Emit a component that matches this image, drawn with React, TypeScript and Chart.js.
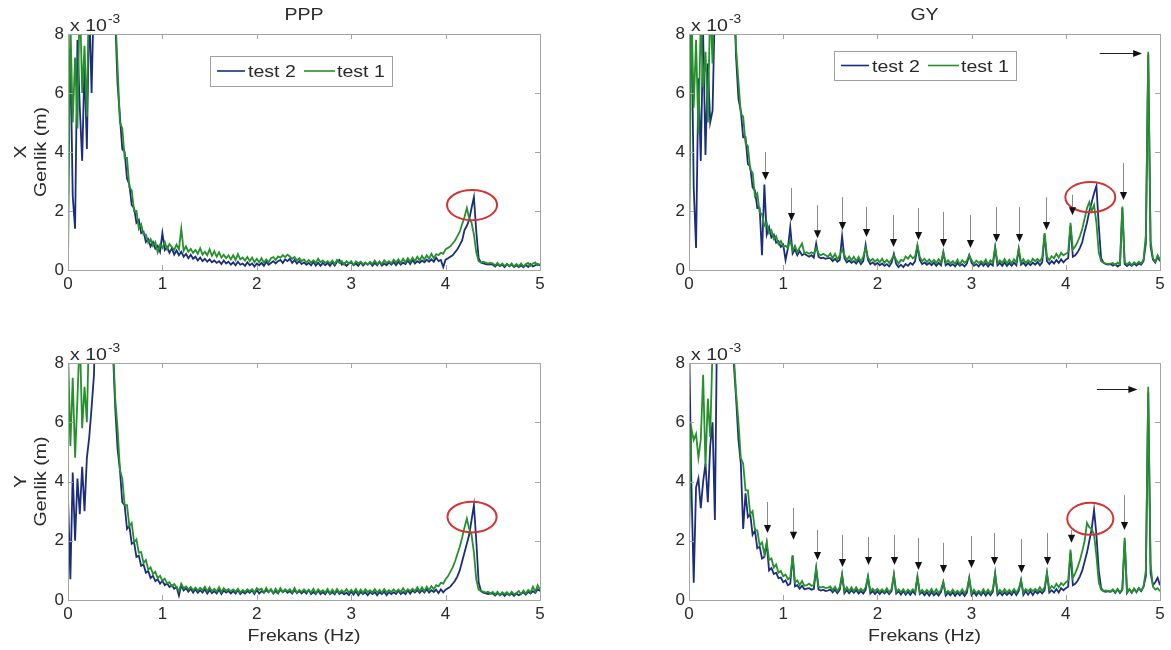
import React, { useEffect, useRef } from "react";
import { Chart, registerables } from "chart.js";
Chart.register(...registerables);

// Frequency grid step (Hz) – sample i sits at i * STEP_HZ, 0..5 Hz
const STEP_HZ = 0.025;
const X_TICKS = [0, 1, 2, 3, 4, 5];
const Y_TICKS = [0, 2, 4, 6, 8];
const LEGEND_LABELS = ["test 2", "test 1"];

// Amplitudes in units of 1e-3 m
const PPP_X_TEST2 = [
  3.0, 7.5, 2.5, 1.4, 7.8, 5.5, 3.7, 7.0, 4.1, 9.0,
  6.0, 9.5, 11, 14, 18, 22, 24, 20, 15, 11,
  8.5, 6.3, 5.2, 4.1, 4.0, 3.1, 2.9, 2.2, 2.1, 1.6,
  1.7, 1.25, 1.3, 0.95, 1.05, 0.8, 0.95, 0.72, 0.82, 0.62,
  1.25, 0.68, 0.78, 0.58, 0.74, 0.52, 0.66, 0.5, 0.62, 0.45,
  0.55, 0.4, 0.52, 0.38, 0.45, 0.32, 0.42, 0.3, 0.38, 0.28,
  0.36, 0.26, 0.32, 0.24, 0.3, 0.2, 0.32, 0.22, 0.28, 0.18,
  0.26, 0.16, 0.28, 0.18, 0.22, 0.14, 0.26, 0.16, 0.22, 0.12,
  0.22, 0.16, 0.24, 0.14, 0.28, 0.18, 0.24, 0.3, 0.22, 0.3,
  0.34, 0.24, 0.36, 0.3, 0.38, 0.24, 0.34, 0.22, 0.3, 0.2,
  0.26, 0.18, 0.24, 0.16, 0.28, 0.15, 0.25, 0.14, 0.24, 0.16,
  0.24, 0.14, 0.26, 0.15, 0.28, 0.34, 0.18, 0.24, 0.14, 0.22,
  0.26, 0.16, 0.22, 0.14, 0.26, 0.15, 0.24, 0.18, 0.25, 0.14,
  0.24, 0.16, 0.28, 0.15, 0.22, 0.16, 0.26, 0.18, 0.27, 0.16,
  0.28, 0.18, 0.25, 0.2, 0.32, 0.2, 0.34, 0.22, 0.3, 0.24,
  0.32, 0.26, 0.35, 0.28, 0.36, 0.28, 0.42, 0.3, 0.34, 0.1,
  0.35, 0.4, 0.45, 0.5, 0.6, 0.7, 0.85, 1.0, 1.35, 1.5,
  1.7, 2.1, 2.47, 1.3, 0.4, 0.25, 0.22, 0.2, 0.18, 0.2,
  0.18, 0.12, 0.2, 0.13, 0.18, 0.1, 0.2, 0.13, 0.18, 0.1,
  0.16, 0.1, 0.15, 0.09, 0.17, 0.1, 0.2, 0.12, 0.16, 0.2,
  0.15,
];
const PPP_X_TEST1 = [
  0.2, 8.5, 5.0, 7.2, 4.8, 9.5, 6.0, 7.6, 5.2, 10,
  12, 15, 18, 22, 26, 24, 20, 16, 13, 10,
  8.8, 6.9, 5.0, 4.8, 3.8, 3.8, 2.8, 2.7, 2.0, 2.0,
  1.4, 1.55, 1.2, 1.2, 0.92, 1.05, 0.82, 0.95, 0.6, 0.85,
  0.75, 0.95, 0.7, 0.88, 0.78, 0.68, 0.86, 0.7, 1.4, 0.65,
  0.8, 0.62, 0.72, 0.58, 0.68, 0.55, 0.74, 0.52, 0.62, 0.5,
  0.7, 0.48, 0.64, 0.45, 0.6, 0.42, 0.52, 0.4, 0.5, 0.36,
  0.5, 0.34, 0.54, 0.36, 0.42, 0.32, 0.44, 0.3, 0.42, 0.26,
  0.38, 0.26, 0.4, 0.25, 0.36, 0.26, 0.4, 0.44, 0.34, 0.46,
  0.42, 0.5, 0.44, 0.52, 0.46, 0.38, 0.44, 0.32, 0.4, 0.3,
  0.36, 0.26, 0.34, 0.25, 0.33, 0.24, 0.38, 0.26, 0.32, 0.24,
  0.3, 0.22, 0.32, 0.2, 0.34, 0.24, 0.3, 0.18, 0.3, 0.22,
  0.3, 0.18, 0.29, 0.22, 0.28, 0.2, 0.26, 0.18, 0.28, 0.2,
  0.32, 0.2, 0.28, 0.2, 0.33, 0.24, 0.3, 0.22, 0.35, 0.26,
  0.36, 0.24, 0.38, 0.26, 0.4, 0.28, 0.42, 0.3, 0.45, 0.32,
  0.48, 0.35, 0.5, 0.38, 0.55, 0.4, 0.54, 0.5, 0.58, 0.55,
  0.7, 0.75, 0.8, 0.9, 1.0, 1.15, 1.3, 1.55, 1.8, 2.1,
  1.75, 1.6, 1.2, 0.6, 0.3, 0.25, 0.28, 0.25, 0.22, 0.25,
  0.22, 0.16, 0.24, 0.15, 0.22, 0.14, 0.2, 0.13, 0.22, 0.12,
  0.2, 0.13, 0.22, 0.12, 0.2, 0.24, 0.14, 0.22, 0.26, 0.16,
  0.2,
];
const GY_X_TEST2 = [
  3.0, 9.0, 2.8, 0.75, 6.5, 3.7, 8.0, 3.9, 7.0, 5.0,
  5.4, 9.0, 14, 18, 22, 25, 22, 17, 12, 9.5,
  7.2, 5.8, 5.4, 4.5, 4.5, 3.6, 3.5, 2.8, 2.7, 2.1,
  2.1, 0.5, 2.9, 1.2, 1.45, 1.1, 1.2, 0.92, 0.98, 0.78,
  0.86, 0.34, 0.74, 1.45, 0.56, 0.7, 0.5, 0.64, 0.5, 0.55,
  0.5, 0.45, 0.5, 0.42, 0.9, 0.45, 0.4, 0.42, 0.38, 0.4,
  0.4, 0.3, 0.38, 0.28, 0.34, 1.15, 0.4, 0.26, 0.32, 0.24,
  0.3, 0.22, 0.34, 0.2, 0.3, 0.85, 0.34, 0.2, 0.26, 0.18,
  0.24, 0.16, 0.22, 0.14, 0.2, 0.12, 0.24, 0.55, 0.2, 0.1,
  0.18, 0.1, 0.2, 0.14, 0.24, 0.18, 0.3, 0.8, 0.34, 0.2,
  0.26, 0.18, 0.24, 0.16, 0.25, 0.14, 0.24, 0.16, 0.6, 0.16,
  0.22, 0.14, 0.2, 0.12, 0.24, 0.14, 0.2, 0.12, 0.22, 0.5,
  0.24, 0.14, 0.2, 0.12, 0.24, 0.14, 0.23, 0.12, 0.22, 0.15,
  0.75, 0.16, 0.24, 0.14, 0.26, 0.14, 0.24, 0.14, 0.25, 0.16,
  0.7, 0.18, 0.25, 0.14, 0.24, 0.16, 0.25, 0.18, 0.27, 0.16,
  0.26, 1.2, 0.3, 0.2, 0.3, 0.22, 0.34, 0.24, 0.36, 0.26,
  0.35, 0.4, 1.5, 0.45, 0.5, 0.6, 0.75, 0.95, 1.3, 1.6,
  2.0, 2.3, 2.6, 2.85, 1.5, 0.4, 0.25, 0.2, 0.18, 0.2,
  0.15, 0.2, 0.12, 0.18, 2.1, 0.2, 0.13, 0.2, 0.14, 0.22,
  0.15, 0.22, 0.18, 0.3, 0.9, 7.3, 0.8, 0.35, 0.25, 0.45,
  0.3,
];
const GY_X_TEST1 = [
  0.2, 9.0, 5.5, 7.8, 4.6, 8.5, 6.2, 7.4, 5.0, 9.0,
  7.0, 11, 15, 20, 24, 26, 23, 18, 13, 10,
  7.5, 6.4, 5.3, 5.2, 4.3, 4.2, 3.4, 3.3, 2.5, 2.6,
  1.95, 1.9, 1.5, 1.6, 1.25, 1.35, 1.05, 1.15, 0.88, 0.98,
  0.8, 0.82, 0.74, 1.0, 0.66, 0.82, 0.6, 0.76, 0.9, 0.56,
  0.6, 0.55, 0.6, 0.55, 0.75, 0.55, 0.5, 0.55, 0.5, 0.45,
  0.56, 0.4, 0.55, 0.36, 0.5, 0.7, 0.5, 0.34, 0.46, 0.32,
  0.45, 0.3, 0.44, 0.28, 0.45, 0.75, 0.42, 0.3, 0.38, 0.28,
  0.36, 0.26, 0.38, 0.24, 0.34, 0.24, 0.36, 0.5, 0.34, 0.22,
  0.34, 0.3, 0.46, 0.38, 0.5, 0.4, 0.46, 0.85, 0.44, 0.3,
  0.38, 0.27, 0.36, 0.25, 0.34, 0.24, 0.37, 0.25, 0.6, 0.24,
  0.33, 0.22, 0.3, 0.21, 0.35, 0.2, 0.33, 0.24, 0.32, 0.5,
  0.33, 0.2, 0.32, 0.24, 0.3, 0.22, 0.35, 0.2, 0.33, 0.25,
  0.78, 0.24, 0.33, 0.24, 0.37, 0.22, 0.35, 0.23, 0.36, 0.26,
  0.72, 0.25, 0.37, 0.24, 0.33, 0.25, 0.38, 0.3, 0.37, 0.29,
  0.43, 1.25, 0.45, 0.33, 0.47, 0.4, 0.55, 0.42, 0.58, 0.5,
  0.55, 0.6, 1.6, 0.7, 0.8, 0.95, 1.15, 1.4, 1.75, 2.1,
  2.3, 2.0, 2.2, 1.6, 0.6, 0.3, 0.25, 0.22, 0.2, 0.22,
  0.24, 0.16, 0.25, 0.18, 2.15, 0.28, 0.18, 0.26, 0.17, 0.26,
  0.2, 0.28, 0.22, 0.35, 1.2, 7.4, 1.0, 0.4, 0.28, 0.5,
  0.35,
];
const PPP_Y_TEST2 = [
  3.5, 0.7, 4.3, 2.0, 4.1, 2.9, 4.5, 3.0, 4.8, 5.5,
  6.5, 7.6, 11, 15, 19, 23, 20, 16, 12, 8.5,
  6.5, 5.1, 4.4, 3.3, 3.2, 2.4, 2.5, 1.9, 1.95, 1.45,
  1.5, 1.15, 1.2, 0.92, 0.98, 0.74, 0.82, 0.64, 0.7, 0.55,
  0.65, 0.5, 0.56, 0.44, 0.5, 0.38, 0.44, 0.15, 0.5, 0.32,
  0.4, 0.28, 0.38, 0.25, 0.36, 0.24, 0.33, 0.25, 0.36, 0.22,
  0.34, 0.23, 0.3, 0.22, 0.35, 0.2, 0.32, 0.25, 0.3, 0.22,
  0.3, 0.22, 0.34, 0.2, 0.28, 0.22, 0.3, 0.24, 0.33, 0.2,
  0.34, 0.22, 0.3, 0.24, 0.33, 0.26, 0.35, 0.22, 0.3, 0.22,
  0.35, 0.26, 0.33, 0.24, 0.3, 0.22, 0.34, 0.23, 0.3, 0.22,
  0.3, 0.22, 0.34, 0.2, 0.27, 0.2, 0.32, 0.2, 0.27, 0.19,
  0.32, 0.2, 0.27, 0.19, 0.32, 0.2, 0.26, 0.19, 0.25, 0.17,
  0.29, 0.18, 0.3, 0.16, 0.27, 0.2, 0.26, 0.16, 0.27, 0.2,
  0.27, 0.16, 0.26, 0.2, 0.28, 0.16, 0.27, 0.2, 0.26, 0.2,
  0.32, 0.2, 0.27, 0.2, 0.33, 0.21, 0.32, 0.25, 0.33, 0.24,
  0.33, 0.25, 0.36, 0.25, 0.33, 0.27, 0.35, 0.23, 0.36, 0.26,
  0.35, 0.4, 0.45, 0.55, 0.65, 0.8, 1.0, 1.3, 1.6, 1.9,
  2.2, 2.7, 3.2, 2.0, 0.6, 0.3, 0.25, 0.22, 0.2, 0.22,
  0.22, 0.15, 0.23, 0.16, 0.22, 0.14, 0.22, 0.16, 0.22, 0.14,
  0.22, 0.16, 0.2, 0.26, 0.18, 0.28, 0.22, 0.3, 0.24, 0.36,
  0.3,
];
const PPP_Y_TEST1 = [
  8.5, 5.2, 7.5, 4.8, 6.8, 9.0, 5.8, 7.2, 6.0, 9.5,
  11, 14, 18, 22, 26, 24, 19, 15, 11, 8.8,
  6.8, 5.8, 4.4, 4.1, 3.2, 3.2, 2.5, 2.6, 1.95, 2.05,
  1.6, 1.62, 1.25, 1.35, 1.02, 1.1, 0.88, 0.95, 0.74, 0.82,
  0.65, 0.72, 0.56, 0.6, 0.46, 0.54, 0.42, 0.3, 0.55, 0.4,
  0.46, 0.36, 0.44, 0.33, 0.42, 0.32, 0.41, 0.33, 0.45, 0.3,
  0.43, 0.3, 0.38, 0.29, 0.43, 0.27, 0.4, 0.32, 0.37, 0.3,
  0.36, 0.28, 0.38, 0.25, 0.34, 0.27, 0.36, 0.3, 0.37, 0.25,
  0.4, 0.34, 0.38, 0.25, 0.41, 0.27, 0.36, 0.23, 0.38, 0.25,
  0.4, 0.27, 0.36, 0.3, 0.36, 0.26, 0.41, 0.25, 0.34, 0.27,
  0.36, 0.27, 0.34, 0.25, 0.38, 0.23, 0.36, 0.27, 0.33, 0.25,
  0.37, 0.23, 0.35, 0.24, 0.37, 0.25, 0.33, 0.25, 0.37, 0.25,
  0.34, 0.25, 0.37, 0.23, 0.35, 0.24, 0.36, 0.27, 0.33, 0.25,
  0.37, 0.25, 0.34, 0.25, 0.37, 0.26, 0.33, 0.27, 0.36, 0.27,
  0.35, 0.27, 0.4, 0.27, 0.36, 0.3, 0.38, 0.3, 0.43, 0.3,
  0.43, 0.3, 0.45, 0.33, 0.47, 0.36, 0.5, 0.46, 0.58, 0.55,
  0.7, 0.8, 0.95, 1.1, 1.3, 1.55, 1.8, 2.1, 2.45, 2.75,
  2.4, 2.2, 1.6, 0.7, 0.35, 0.3, 0.28, 0.25, 0.28, 0.22,
  0.27, 0.19, 0.28, 0.17, 0.26, 0.2, 0.27, 0.17, 0.28, 0.19,
  0.24, 0.3, 0.2, 0.32, 0.22, 0.34, 0.26, 0.45, 0.28, 0.5,
  0.35,
];
const GY_Y_TEST2 = [
  9.0, 4.0, 0.58, 3.8, 4.1, 3.1, 4.0, 4.6, 3.3, 5.2,
  6.0, 2.7, 10, 14, 18, 22, 19, 15, 11, 8.0,
  6.8, 5.4, 4.6, 2.4, 3.6, 2.8, 2.9, 2.2, 2.35, 1.75,
  1.8, 1.4, 1.45, 1.9, 1.0, 1.08, 0.88, 0.92, 0.74, 0.76,
  0.6, 0.66, 0.5, 0.55, 1.5, 0.46, 0.5, 0.38, 0.48, 0.36,
  0.38, 0.4, 0.35, 0.38, 1.05, 0.35, 0.32, 0.35, 0.3, 0.32,
  0.36, 0.26, 0.35, 0.23, 0.34, 0.85, 0.23, 0.34, 0.23, 0.33,
  0.24, 0.34, 0.22, 0.3, 0.22, 0.34, 0.78, 0.22, 0.3, 0.2,
  0.3, 0.2, 0.3, 0.22, 0.3, 0.2, 0.3, 0.85, 0.22, 0.3,
  0.18, 0.3, 0.18, 0.28, 0.17, 0.3, 0.2, 0.78, 0.2, 0.27,
  0.16, 0.26, 0.15, 0.27, 0.16, 0.24, 0.15, 0.27, 0.6, 0.15,
  0.25, 0.16, 0.26, 0.14, 0.25, 0.16, 0.26, 0.14, 0.25, 0.74,
  0.16, 0.27, 0.15, 0.27, 0.16, 0.27, 0.15, 0.26, 0.16, 0.27,
  0.9, 0.17, 0.26, 0.16, 0.26, 0.17, 0.26, 0.17, 0.3, 0.17,
  0.3, 0.67, 0.17, 0.3, 0.18, 0.3, 0.17, 0.3, 0.22, 0.3,
  0.22, 0.33, 0.9, 0.25, 0.33, 0.25, 0.37, 0.25, 0.4, 0.33,
  0.4, 0.45, 1.6, 0.5, 0.55, 0.65, 0.8, 1.0, 1.3, 1.6,
  2.0, 2.4, 3.04, 2.2, 1.0, 0.4, 0.3, 0.28, 0.3, 0.28,
  0.34, 0.24, 0.36, 0.24, 0.34, 2.0, 0.24, 0.36, 0.24, 0.38,
  0.26, 0.4, 0.3, 0.45, 0.8, 7.0, 0.9, 0.5, 0.6, 0.75,
  0.5,
];
const GY_Y_TEST1 = [
  2.0, 5.8, 5.4, 5.6, 4.8, 5.4, 7.6, 4.5, 6.8, 5.5,
  8.5, 10, 13, 17, 21, 24, 20, 15, 11, 8.3,
  7.0, 6.0, 4.8, 4.6, 3.7, 3.7, 2.9, 3.0, 2.35, 2.35,
  1.85, 1.95, 1.55, 1.95, 1.35, 1.4, 1.1, 1.2, 0.92, 0.98,
  0.8, 0.86, 0.7, 0.76, 1.5, 0.6, 0.66, 0.5, 0.64, 0.48,
  0.5, 0.55, 0.48, 0.5, 1.08, 0.45, 0.42, 0.45, 0.4, 0.42,
  0.46, 0.33, 0.45, 0.3, 0.43, 0.85, 0.3, 0.43, 0.3, 0.43,
  0.3, 0.43, 0.3, 0.38, 0.3, 0.43, 0.78, 0.3, 0.38, 0.3,
  0.38, 0.28, 0.36, 0.27, 0.4, 0.26, 0.37, 0.85, 0.27, 0.36,
  0.27, 0.36, 0.24, 0.35, 0.27, 0.36, 0.27, 0.78, 0.25, 0.34,
  0.25, 0.34, 0.25, 0.37, 0.23, 0.36, 0.23, 0.35, 0.6, 0.23,
  0.31, 0.23, 0.35, 0.23, 0.31, 0.23, 0.36, 0.23, 0.35, 0.72,
  0.23, 0.35, 0.23, 0.31, 0.23, 0.36, 0.23, 0.35, 0.23, 0.36,
  0.88, 0.25, 0.34, 0.25, 0.37, 0.25, 0.34, 0.25, 0.37, 0.25,
  0.37, 0.66, 0.25, 0.37, 0.3, 0.38, 0.3, 0.37, 0.3, 0.43,
  0.3, 0.43, 0.92, 0.35, 0.47, 0.4, 0.55, 0.43, 0.57, 0.5,
  0.6, 0.65, 1.7, 0.75, 0.9, 1.1, 1.35, 1.65, 2.0, 2.6,
  2.45, 2.4, 2.2, 1.5, 0.6, 0.35, 0.3, 0.32, 0.3, 0.28,
  0.36, 0.26, 0.38, 0.27, 0.36, 2.1, 0.26, 0.37, 0.26, 0.38,
  0.28, 0.4, 0.32, 0.45, 1.0, 7.2, 1.2, 0.45, 0.35, 0.4,
  0.3,
];

// Annotations (data units): ellipse [cxHz, cy, rxHz, ry]
const PPP_X_ELLIPSE = [4.28, 2.2, 0.265, 0.51];
const GY_X_ELLIPSE = [4.26, 2.47, 0.265, 0.51];
const PPP_Y_ELLIPSE = [4.28, 2.8, 0.26, 0.52];
const GY_Y_ELLIPSE = [4.26, 2.74, 0.245, 0.54];
// Down arrows [fHz, tail, tip]
const GY_X_ARROWS = [
  [0.81, 4.0, 3.05], [1.08, 2.78, 1.66], [1.36, 2.2, 1.08], [1.62, 2.47, 1.36],
  [1.88, 2.14, 1.12], [2.17, 1.86, 0.78], [2.43, 2.1, 1.02], [2.7, 1.97, 0.78],
  [2.98, 1.86, 0.75], [3.26, 2.14, 0.95], [3.5, 2.14, 0.95], [3.79, 2.47, 1.36],
  [4.07, 2.55, 1.86], [4.61, 3.63, 2.37],
];
const GY_Y_ARROWS = [
  [0.83, 3.31, 2.26], [1.1, 3.11, 2.03], [1.36, 2.36, 1.35], [1.62, 2.2, 1.11],
  [1.9, 2.13, 1.18], [2.18, 2.2, 1.18], [2.43, 2.09, 1.01], [2.7, 1.93, 0.91],
  [2.99, 2.16, 1.08], [3.24, 2.26, 1.18], [3.52, 2.06, 0.91], [3.8, 2.26, 1.18],
  [4.05, 2.36, 1.93], [4.62, 3.55, 2.36],
];
// Horizontal arrow [fromHz, toHz, level]
const GY_X_HARROW = [4.36, 4.81, 7.36];
const GY_Y_HARROW = [4.33, 4.76, 7.13];

const FONT = '"Liberation Sans", Arial, Helvetica, sans-serif';
const TXT = "#2a2a2a";
const AXIS = "#a4a4a4";
const BLUE = "#1c2d7c";
const GREEN = "#26902c";
const RED = "#d23434";
const SX = 1.15;

type Panel = {
  left: number; top: number; width: number; height: number;
  area: { l: number; t: number; r: number; b: number };
  test2: number[]; test1: number[];
  title?: string; yName?: string; xLabel?: boolean;
  legend?: { x: number; y: number; w: number; h: number };
  ellipse: number[]; arrows: number[][]; hArrow?: number[];
};

const PANELS: Panel[] = [
  { left: 0, top: 0, width: 585, height: 325, area: { l: 68, t: 34, r: 540, b: 270 },
    test2: PPP_X_TEST2, test1: PPP_X_TEST1, title: "PPP", yName: "X",
    legend: { x: 210, y: 56, w: 182, h: 30 }, ellipse: PPP_X_ELLIPSE, arrows: [] },
  { left: 585, top: 0, width: 586, height: 325, area: { l: 104, t: 34, r: 575, b: 270 },
    test2: GY_X_TEST2, test1: GY_X_TEST1, title: "GY",
    legend: { x: 249, y: 51, w: 182, h: 29 }, ellipse: GY_X_ELLIPSE, arrows: GY_X_ARROWS, hArrow: GY_X_HARROW },
  { left: 0, top: 325, width: 585, height: 325, area: { l: 68, t: 38, r: 540, b: 275 },
    test2: PPP_Y_TEST2, test1: PPP_Y_TEST1, yName: "Y", xLabel: true,
    ellipse: PPP_Y_ELLIPSE, arrows: [] },
  { left: 585, top: 325, width: 586, height: 325, area: { l: 104, t: 38, r: 575, b: 275 },
    test2: GY_Y_TEST2, test1: GY_Y_TEST1, xLabel: true,
    ellipse: GY_Y_ELLIPSE, arrows: GY_Y_ARROWS, hArrow: GY_Y_HARROW },
];

function toPoints(vals: number[]) {
  return vals.map((v, i) => ({ x: Math.round(i * STEP_HZ * 1000) / 1000, y: v }));
}

function sText(ctx: CanvasRenderingContext2D, text: string, x: number, y: number,
  align: CanvasTextAlign, size: number, rotate = false, baseline: CanvasTextBaseline = "alphabetic") {
  ctx.save();
  ctx.translate(x, y);
  if (rotate) ctx.rotate(-Math.PI / 2);
  ctx.scale(SX, 1);
  ctx.font = `${size}px ${FONT}`;
  ctx.fillStyle = TXT;
  ctx.textAlign = align;
  ctx.textBaseline = baseline;
  ctx.fillText(text, 0, 0);
  const w = ctx.measureText(text).width * SX;
  ctx.restore();
  return w;
}

function decor(p: Panel) {
  return {
    id: "decor",
    afterDraw(chart: any) {
      const ctx: CanvasRenderingContext2D = chart.ctx;
      const { left, right, top, bottom } = chart.chartArea;
      const xs = chart.scales.x;
      const ys = chart.scales.y;
      ctx.save();
      // red ellipse
      const [ecx, ecy, erx, ery] = p.ellipse;
      const cx = xs.getPixelForValue(ecx), cy = ys.getPixelForValue(ecy);
      const rx = Math.abs(xs.getPixelForValue(ecx + erx) - cx);
      const ry = Math.abs(ys.getPixelForValue(ecy + ery) - cy);
      ctx.strokeStyle = RED;
      ctx.lineWidth = 2;
      ctx.beginPath();
      ctx.ellipse(cx, cy, rx, ry, 0, 0, Math.PI * 2);
      ctx.stroke();
      // down arrows
      for (const [f, tail, tip] of p.arrows) {
        const x = Math.round(xs.getPixelForValue(f)) + 0.5;
        const y0 = ys.getPixelForValue(tail), y1 = ys.getPixelForValue(tip);
        const head = 8, hw = 3.6;
        ctx.strokeStyle = "#8a8a8a";
        ctx.lineWidth = 1;
        ctx.beginPath(); ctx.moveTo(x, y0); ctx.lineTo(x, y1 - head + 1); ctx.stroke();
        ctx.fillStyle = "#111";
        ctx.beginPath(); ctx.moveTo(x, y1); ctx.lineTo(x - hw, y1 - head); ctx.lineTo(x + hw, y1 - head); ctx.closePath(); ctx.fill();
      }
      if (p.hArrow) {
        const [f0, f1, lv] = p.hArrow;
        const x0 = xs.getPixelForValue(f0), x1 = xs.getPixelForValue(f1);
        const y = Math.round(ys.getPixelForValue(lv)) + 0.5;
        const head = 9, hw = 3.6;
        ctx.strokeStyle = "#222"; ctx.lineWidth = 1;
        ctx.beginPath(); ctx.moveTo(x0, y); ctx.lineTo(x1 - head + 1, y); ctx.stroke();
        ctx.fillStyle = "#111";
        ctx.beginPath(); ctx.moveTo(x1, y); ctx.lineTo(x1 - head, y - hw); ctx.lineTo(x1 - head, y + hw); ctx.closePath(); ctx.fill();
      }
      // axes box
      ctx.strokeStyle = AXIS;
      ctx.lineWidth = 1;
      ctx.strokeRect(Math.round(left) + 0.5, Math.round(top) + 0.5, Math.round(right - left), Math.round(bottom - top));
      // inner ticks
      ctx.beginPath();
      for (const v of X_TICKS) {
        const x = Math.round(xs.getPixelForValue(v)) + 0.5;
        ctx.moveTo(x, bottom); ctx.lineTo(x, bottom - 5);
        ctx.moveTo(x, top); ctx.lineTo(x, top + 5);
      }
      for (const v of Y_TICKS) {
        const y = Math.round(ys.getPixelForValue(v)) + 0.5;
        ctx.moveTo(left, y); ctx.lineTo(left + 5, y);
        ctx.moveTo(right, y); ctx.lineTo(right - 5, y);
      }
      ctx.stroke();
      // exponent label
      const w = sText(ctx, "x 10", left + 2, top - 3, "left", 17);
      sText(ctx, "-3", left + 2 + w + 1, top - 11, "left", 12);
      // title
      if (p.title) sText(ctx, p.title, (left + right) / 2, 20, "center", 17);
      // y name
      if (p.yName) {
        const my = (top + bottom) / 2;
        sText(ctx, p.yName, 21, my, "center", 17, true, "middle");
        sText(ctx, "Genlik (m)", 41, my, "center", 17, true, "middle");
      }
      if (p.xLabel) sText(ctx, "Frekans (Hz)", (left + right) / 2, bottom + 41, "center", 17);
      // legend
      if (p.legend) {
        const L = p.legend;
        ctx.fillStyle = "#fff";
        ctx.fillRect(L.x, L.y, L.w, L.h);
        ctx.strokeStyle = "#a0a0a0";
        ctx.lineWidth = 1;
        ctx.strokeRect(L.x + 0.5, L.y + 0.5, L.w, L.h);
        const my = L.y + L.h / 2;
        ctx.lineWidth = 1.6;
        ctx.strokeStyle = BLUE;
        ctx.beginPath(); ctx.moveTo(L.x + 7, my); ctx.lineTo(L.x + 35, my); ctx.stroke();
        sText(ctx, LEGEND_LABELS[0], L.x + 38, my + 6, "left", 17);
        ctx.strokeStyle = GREEN;
        ctx.lineWidth = 1.6;
        ctx.beginPath(); ctx.moveTo(L.x + 94, my); ctx.lineTo(L.x + 125, my); ctx.stroke();
        sText(ctx, LEGEND_LABELS[1], L.x + 127, my + 6, "left", 17);
      }
      ctx.restore();
    },
  };
}

function makeConfig(p: Panel): any {
  const tickFont = { family: FONT, size: 17 };
  return {
    type: "line",
    data: {
      datasets: [
        { label: LEGEND_LABELS[1], data: toPoints(p.test1), borderColor: GREEN, borderWidth: 1.8,
          pointRadius: 0, tension: 0, fill: false, order: 0 },
        { label: LEGEND_LABELS[0], data: toPoints(p.test2), borderColor: BLUE, borderWidth: 1.8,
          pointRadius: 0, tension: 0, fill: false, order: 1 },
      ],
    },
    options: {
      animation: false,
      responsive: false,
      maintainAspectRatio: false,
      devicePixelRatio: 1,
      events: [],
      layout: { padding: { left: 0, top: p.area.t, right: p.width - p.area.r, bottom: 0 } },
      scales: {
        x: {
          type: "linear", min: 0, max: 5,
          afterBuildTicks: (s: any) => { s.ticks = X_TICKS.map((v) => ({ value: v })); },
          ticks: { font: tickFont, color: TXT, padding: 4, maxRotation: 0, autoSkip: false },
          grid: { display: false, drawTicks: false },
          border: { display: false },
          afterFit: (s: any) => { s.height = p.height - p.area.b; },
        },
        y: {
          type: "linear", min: 0, max: 8,
          afterBuildTicks: (s: any) => { s.ticks = Y_TICKS.map((v) => ({ value: v })); },
          ticks: { font: tickFont, color: TXT, padding: 4, autoSkip: false },
          grid: { display: false, drawTicks: false },
          border: { display: false },
          afterFit: (s: any) => { s.width = p.area.l; },
        },
      },
      plugins: { legend: { display: false }, tooltip: { enabled: false }, title: { display: false } },
    },
    plugins: [decor(p)],
  };
}

export default function App() {
  const refs = useRef<(HTMLCanvasElement | null)[]>([]);
  useEffect(() => {
    const charts = PANELS.map((p, i) => new Chart(refs.current[i] as HTMLCanvasElement, makeConfig(p)));
    return () => charts.forEach((c) => c.destroy());
  }, []);
  return (
    <div style={{ position: "absolute", left: 0, top: 0, width: 1171, height: 650, background: "#fff", overflow: "hidden" }}>
      {PANELS.map((p, i) => (
        <canvas
          key={i}
          ref={(el) => { refs.current[i] = el; }}
          width={p.width}
          height={p.height}
          style={{ position: "absolute", left: p.left, top: p.top, width: p.width, height: p.height }}
        />
      ))}
    </div>
  );
}
